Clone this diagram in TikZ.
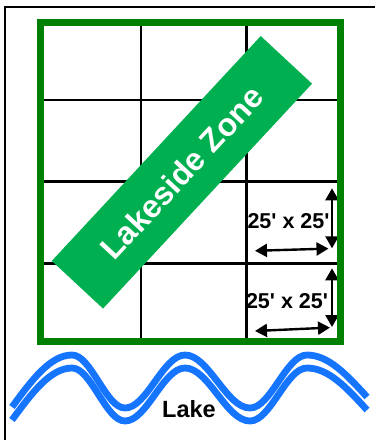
\documentclass[tikz,border=0pt]{standalone}
\usepackage{fontspec}
\setmainfont{Liberation Sans}
\usepackage{tikz}
\usetikzlibrary{arrows.meta}
\definecolor{zoneframe}{RGB}{0,128,0}
\definecolor{bannergreen}{RGB}{0,176,80}
\definecolor{lakeblue}{RGB}{22,117,255}

\begin{document}
\begin{tikzpicture}[x=1pt,y=-1pt,
  gridline/.style={line width=2.7pt},
  dimarrow/.style={line width=2.4pt,{Triangle[length=12pt,width=13pt]}-{Triangle[length=12pt,width=13pt]}},
  dimlabel/.style={font=\fontsize{21.5}{24}\selectfont\bfseries,inner sep=0pt},
  wave/.style={lakeblue,line width=6.8pt}]
\useasboundingbox (0,0) rectangle (375,440);
% outer page frame
\draw[line width=2pt] (375,7) -| (5,440);
% grid of lots
\draw[gridline] (141,22.5) -- (141,341);
\draw[gridline] (246.7,22.5) -- (246.7,341);
\draw[gridline] (40.5,100) -- (340.5,100);
\draw[gridline] (40.5,181.7) -- (340.5,181.7);
\draw[gridline] (40.5,263.3) -- (340.5,263.3);
% zone banner
\node[fill=bannergreen,rotate=47.1,minimum width=307pt,minimum height=70pt,inner sep=0pt,
  text=white,font=\fontsize{32}{38}\selectfont\bfseries] (zone) at (181.9,172.3) {Lakeside Zone};
% lot sizes
\node[dimlabel] (dimtop) at (288.5,221.5) {25\textquotesingle{} x 25\textquotesingle};
\node[dimlabel] (dimbottom) at (287,301.5) {25\textquotesingle{} x 25\textquotesingle};
\coordinate (v1a) at (332,188.3);
\coordinate (v1b) at (332,248.3);
\coordinate (v2a) at (332,268.3);
\coordinate (v2b) at (332,327);
\coordinate (h1a) at (255,250.8);
\coordinate (h1b) at (328.5,248.6);
\coordinate (h2a) at (255,331);
\coordinate (h2b) at (330,327.6);
\draw[dimarrow] (v1a) -- (v1b);
\draw[dimarrow] (v2a) -- (v2b);
\draw[dimarrow] (h1a) -- (h1b);
\draw[dimarrow] (h2a) -- (h2b);
% zone boundary
\draw[zoneframe,line width=7pt] (40.5,22.5) rectangle (340.5,341);
% lake shore
\foreach \dy in {0,13}
  \draw[wave,shift={(0,\dy)}] (12,407) sin (72,355) cos (98.5,381.5) sin (125,408)
    cos (155,381.5) sin (185,355) cos (217.5,381.5) sin (250,408)
    cos (278.5,381.5) sin (307,355) cos (367,397);
\node[font=\fontsize{23.5}{27}\selectfont\bfseries,inner sep=0pt] (lake) at (189,409) {Lake};
\end{tikzpicture}
\end{document}
